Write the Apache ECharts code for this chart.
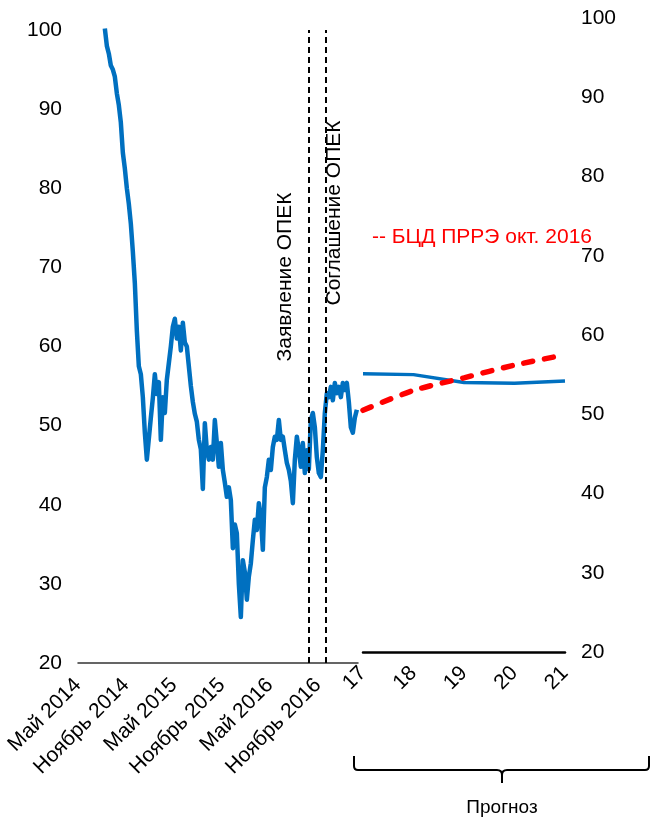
<!DOCTYPE html>
<html>
<head>
<meta charset="utf-8">
<script src="https://cdn.jsdelivr.net/npm/echarts@6/dist/echarts.min.js"></script>
<style>
html,body{margin:0;padding:0;background:#fff;}
#chart{width:654px;height:825px;}
</style>
</head>
<body>
<div id="chart"></div>
<script>
// ---------- DATA ----------
// historical tick labels (every 6 months starting May 2014)
const histTickLabels = ['Май 2014', 'Ноябрь 2014', 'Май 2015', 'Ноябрь 2015', 'Май 2016', 'Ноябрь 2016'];
// historical price, roughly weekly (step = 1/4 month) starting 12 Aug 2014
const priceStartDate = [2014, 8, 12];
const priceStepMonths = 0.25;
const priceValues = [
  100.2, 98.0, 97.0, 95.5, 95.0, 94.1, 92.0, 90.5, 88.3, 84.5,
  82.5, 80.0, 78.0, 75.5, 72.0, 68.0, 62.0, 57.5, 56.5, 53.6,
  49.1, 45.7, 45.5, 51.0, 53.5, 56.5, 54.0, 55.5, 48.2, 53.6,
  51.6, 55.8, 57.9, 60.0, 62.5, 63.5, 61.0, 62.5, 59.5, 63.0,
  60.5, 60.0, 57.5, 55.0, 53.0, 51.5, 50.5, 48.2, 47.0, 42.0,
  50.3, 46.9, 45.7, 47.3, 45.7, 50.7, 47.8, 44.8, 47.8, 44.4,
  42.8, 41.0, 42.2, 40.6, 34.5, 37.5, 36.4, 30.0, 25.8, 33.0,
  31.5, 28.0, 30.9, 32.6, 35.5, 38.1, 36.8, 40.2, 38.5, 34.3,
  42.2, 43.5, 45.7, 44.4, 47.3, 48.6, 48.2, 50.7, 48.2, 48.6,
  46.9, 45.3, 44.4, 43.0, 40.2, 45.7, 48.6, 46.9, 44.8, 47.8,
  44.0, 46.9, 44.5, 50.7, 51.6, 49.8, 46.0, 44.0, 43.5, 46.9,
  51.6, 54.1, 53.6, 54.9, 53.2, 55.4, 54.1, 54.9, 53.6, 55.4,
  54.5, 55.4, 53.0, 49.8, 49.1, 51.0, 52.0
];
// OPEC events
const opecStatementDate = [2016, 9, 28];
const opecAgreementDate = [2016, 11, 30];
const opecStatementLabel = 'Заявление ОПЕК';
const opecAgreementLabel = 'Соглашение ОПЕК';
// forecast part
const forecastYears = ['17', '18', '19', '20', '21'];
const forecastBlue = [55.1, 55.0, 54.0, 53.9, 54.2];
const forecastRed = [50.5, 53.0, 54.6, 56.2, 57.5];
const redLegendText = '-- БЦД ПРРЭ окт. 2016';
const forecastCaption = 'Прогноз';
const yTickMin = 20, yTickMax = 100, yTickStep = 10;

// ---------- HELPERS ----------
function monthIndex(y, m, d) {
  const dim = new Date(Date.UTC(y, m, 0)).getUTCDate();
  return (y - 2014) * 12 + (m - 5) + (d - 1) / dim;
}
const priceStart = monthIndex.apply(null, priceStartDate);
const priceData = priceValues.map((v, i) => [priceStart + i * priceStepMonths, v]);
const statementX = monthIndex.apply(null, opecStatementDate);
const agreementX = monthIndex.apply(null, opecAgreementDate);

const FONT = '"Liberation Sans", Arial, sans-serif';
const chart = echarts.init(document.getElementById('chart'), null, {renderer: 'canvas'});

const labelStyle = {color: '#000', fontSize: 21, fontFamily: FONT};
const br = {stroke: '#000', lineWidth: 2, fill: null};

chart.setOption({
  animation: false,
  backgroundColor: '#fff',
  grid: [
    {left: 78, top: 30, width: 280, height: 633},
    {left: 363, top: 18, width: 202, height: 634}
  ],
  xAxis: [
    {
      gridIndex: 0, type: 'value', min: 0, max: 35, interval: 6,
      axisLine: {show: true, onZero: false, lineStyle: {color: '#333', width: 1.5}},
      axisTick: {show: false}, splitLine: {show: false},
      axisLabel: Object.assign({}, labelStyle, {
        rotate: 45, margin: 19, showMaxLabel: false,
        formatter: v => (v % 6 === 0 && histTickLabels[v / 6]) ? histTickLabels[v / 6] : ''
      })
    },
    {
      gridIndex: 1, type: 'category', data: forecastYears, boundaryGap: false,
      axisLine: {show: true, onZero: false, lineStyle: {color: '#000', width: 2.5}},
      axisTick: {show: false}, splitLine: {show: false},
      axisLabel: Object.assign({}, labelStyle, {rotate: 45, margin: 18, interval: 0})
    }
  ],
  yAxis: [
    {
      gridIndex: 0, type: 'value', min: yTickMin, max: yTickMax, interval: yTickStep,
      axisLine: {show: false}, axisTick: {show: false}, splitLine: {show: false},
      axisLabel: Object.assign({}, labelStyle, {margin: 16})
    },
    {
      gridIndex: 1, type: 'value', position: 'right', min: yTickMin, max: yTickMax, interval: yTickStep,
      axisLine: {show: false}, axisTick: {show: false}, splitLine: {show: false},
      axisLabel: Object.assign({}, labelStyle, {margin: 16})
    }
  ],
  series: [
    {
      type: 'line', xAxisIndex: 0, yAxisIndex: 0, data: priceData,
      showSymbol: false, symbol: 'none', clip: true,
      lineStyle: {color: '#0070C0', width: 4.5, join: 'round'},
      markLine: {
        silent: true, symbol: 'none', animation: false,
        label: {show: false},
        lineStyle: {color: '#000', type: [6, 4], width: 2},
        data: [{xAxis: statementX}, {xAxis: agreementX}]
      },
      z: 2
    },
    {
      type: 'line', xAxisIndex: 1, yAxisIndex: 1, data: forecastBlue,
      showSymbol: false, symbol: 'none',
      lineStyle: {color: '#0070C0', width: 3.5}, z: 2
    },
    {
      type: 'line', xAxisIndex: 1, yAxisIndex: 1, data: forecastRed,
      showSymbol: false, symbol: 'none', smooth: 0.3,
      lineStyle: {color: '#FF0000', width: 5.5, type: [9, 12], cap: 'round'}, z: 3
    }
  ],
  graphic: [
    {type: 'text', x: 285, y: 277, rotation: Math.PI / 2,
      style: {text: opecStatementLabel, fill: '#000', font: '21px ' + FONT, align: 'center', verticalAlign: 'middle'}},
    {type: 'text', x: 334, y: 213, rotation: Math.PI / 2,
      style: {text: opecAgreementLabel, fill: '#000', font: '21px ' + FONT, align: 'center', verticalAlign: 'middle'}},
    {type: 'text', x: 372, y: 237,
      style: {text: redLegendText, fill: '#FF0000', font: '21px ' + FONT, align: 'left', verticalAlign: 'middle'}},
    {type: 'text', x: 502, y: 808,
      style: {text: forecastCaption, fill: '#000', font: '19px ' + FONT, align: 'center', verticalAlign: 'middle'}},
    {type: 'polyline', shape: {points: [[354, 756], [354, 766]]}, style: br},
    {type: 'bezierCurve', shape: {x1: 354, y1: 766, cpx1: 354, cpy1: 770, x2: 358, y2: 770}, style: br},
    {type: 'polyline', shape: {points: [[358, 770], [497, 770]]}, style: br},
    {type: 'bezierCurve', shape: {x1: 497, y1: 770, cpx1: 502, cpy1: 770, x2: 502, y2: 775}, style: br},
    {type: 'polyline', shape: {points: [[502, 775], [502, 783]]}, style: br},
    {type: 'bezierCurve', shape: {x1: 502, y1: 775, cpx1: 502, cpy1: 770, x2: 507, y2: 770}, style: br},
    {type: 'polyline', shape: {points: [[507, 770], [645, 770]]}, style: br},
    {type: 'bezierCurve', shape: {x1: 645, y1: 770, cpx1: 649, cpy1: 770, x2: 649, y2: 766}, style: br},
    {type: 'polyline', shape: {points: [[649, 766], [649, 756]]}, style: br}
  ]
});
</script>
</body>
</html>
